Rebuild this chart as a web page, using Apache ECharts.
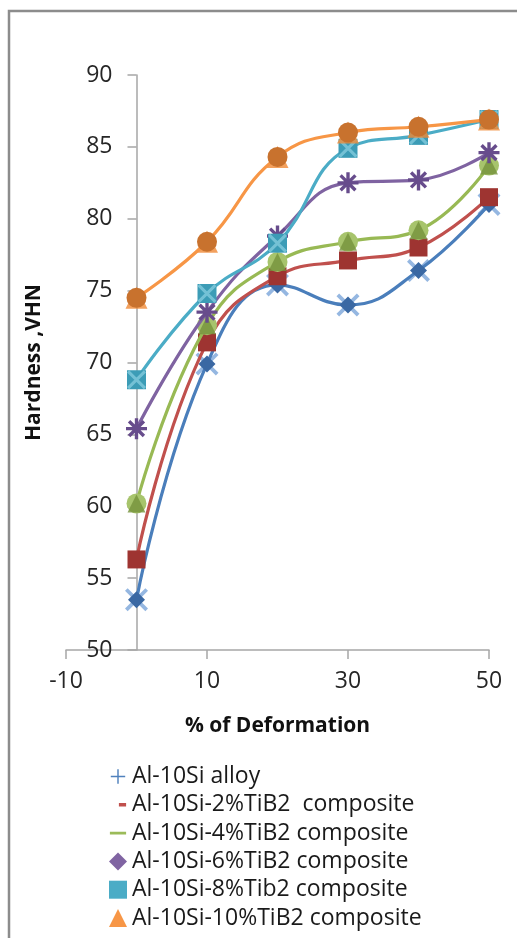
<!DOCTYPE html>
<html>
<head>
<meta charset="utf-8">
<script src="https://cdn.jsdelivr.net/npm/echarts@6/dist/echarts.min.js"></script>
<style>
html,body{margin:0;padding:0;background:#fff;}
#main{width:517px;height:938px;}
</style>
</head>
<body>
<div id="main"></div>
<script>
// % deformation (x) and hardness VHN (y)
var deformation = [0, 10, 20, 30, 40, 50];
var alloy   = [53.5, 69.9, 75.4, 74.0, 76.4, 81.0];
var tib2_2  = [56.3, 71.4, 76.0, 77.1, 78.0, 81.5];
var tib2_4  = [60.2, 72.6, 77.0, 78.4, 79.2, 83.7];
var tib2_6  = [65.4, 73.5, 78.8, 82.5, 82.7, 84.6];
var tib2_8  = [68.8, 74.8, 78.3, 84.9, 85.8, 86.9];
var tib2_10 = [74.5, 78.4, 84.3, 86.0, 86.4, 86.9];

var names = ['Al-10Si alloy', 'Al-10Si-2%TiB2  composite', 'Al-10Si-4%TiB2 composite',
             'Al-10Si-6%TiB2 composite', 'Al-10Si-8%Tib2 composite', 'Al-10Si-10%TiB2 composite'];

var FONT = 'Open Sans';

// bars rotated around centre -> path symbol
function bars(angles, len, w) {
    var p = '';
    angles.forEach(function (a) {
        var r = a * Math.PI / 180, c = Math.cos(r), s = Math.sin(r);
        var pts = [[-len / 2, -w / 2], [len / 2, -w / 2], [len / 2, w / 2], [-len / 2, w / 2]].map(function (q) {
            return (q[0] * c - q[1] * s).toFixed(2) + ',' + (q[0] * s + q[1] * c).toFixed(2);
        });
        p += 'M' + pts.join('L') + 'Z';
    });
    return 'path://' + p;
}
var xMark = bars([45, 135], 20, 2.6);
var starMark = bars([0, 45, 90, 135], 20, 3.2);
var box = 'M0,0h.01v.01h-.01zM19.99,19.99h.01v.01h-.01z';

var styles = [
    {line: '#4A7EBB', sym: 'diamond', size: 17, col: '#3A68A3', over: xMark, overSize: 23, overCol: '#7AA5DA', overTop: false},
    {line: '#C0504D', sym: 'rect', size: 18, col: '#9E3431', over: null},
    {line: '#98B954', sym: 'circle', size: 20, col: '#A7C46C', over: 'triangle', overSize: 18, overCol: '#76923C', overTop: true},
    {line: '#7F63A1', sym: starMark, size: 21, col: '#674C8C', over: null},
    {line: '#4BACC6', sym: 'rect', size: 19, col: '#3C9CB6', over: xMark, overSize: 19, overCol: '#82CADD', overTop: true},
    {line: '#F79646', sym: 'circle', size: 20, col: '#C8722E', over: 'triangle', overSize: 22, overCol: '#F08A36', overTop: false}
];
var legendIcons = [
    'path://' + box + 'M9.2,2h1.6v16h-1.6zM2,9.2h16v1.6h-16z',
    'path://' + box + 'M11,8h8v4h-8z',
    'path://' + box + 'M1,8.5h18v3h-18z',
    'diamond', 'rect', 'triangle'
];
var legendColors = ['#4F81BD', '#C0504D', '#9BBB59', '#8064A2', '#4BACC6', '#F79646'];

var values = [alloy, tib2_2, tib2_4, tib2_6, tib2_8, tib2_10];
var series = [];
values.forEach(function (v, i) {
    var st = styles[i];
    var pts = deformation.map(function (x, k) { return [x, v[k]]; });
    var base = 10 + i * 3;
    series.push({
        name: names[i],
        type: 'line',
        smooth: 0.45,
        data: pts,
        z: base + 1,
        symbol: st.sym,
        symbolSize: st.size,
        showAllSymbol: true,
        lineStyle: {color: st.line, width: 3.2},
        itemStyle: {color: st.col, borderWidth: 0}
    });
    if (st.over) {
        series.push({
            name: names[i] + ' marker',
            type: 'scatter',
            data: pts,
            z: st.overTop ? base + 2 : base,
            silent: true,
            symbol: st.over,
            symbolSize: st.overSize,
            itemStyle: {color: st.overCol}
        });
    }
});

var myChart = echarts.init(document.getElementById('main'));
var option = {
    animation: false,
    backgroundColor: '#fff',
    graphic: [{
        type: 'rect',
        shape: {x: 9, y: 11, width: 700, height: 1200},
        style: {fill: 'none', stroke: '#8C8C8C', lineWidth: 2.5},
        silent: true
    }],
    grid: {left: 66, right: 28, top: 75, bottom: 288, containLabel: false, outerBoundsMode: 'none'},
    legend: {
        orient: 'vertical',
        left: 104,
        top: 760,
        itemWidth: 18,
        itemHeight: 18,
        itemGap: 5.3,
        selectedMode: false,
        textStyle: {fontFamily: FONT, fontSize: 23, color: '#1a1a1a', lineHeight: 22},
        data: names.map(function (n, i) {
            return {name: n, icon: legendIcons[i], itemStyle: {color: legendColors[i], borderWidth: 0}};
        })
    },
    xAxis: {
        type: 'value',
        min: -10, max: 50, interval: 20,
        name: '% of Deformation',
        nameLocation: 'middle',
        nameGap: 66,
        nameTextStyle: {fontFamily: FONT, fontSize: 21, fontWeight: 'bold', color: '#111'},
        axisLine: {onZero: false, lineStyle: {color: '#A6A6A6', width: 1.5}},
        axisTick: {length: 9, lineStyle: {color: '#A6A6A6', width: 1.5}},
        axisLabel: {fontFamily: FONT, fontSize: 23, color: '#262626', margin: 20},
        splitLine: {show: false}
    },
    yAxis: {
        type: 'value',
        min: 50, max: 90, interval: 5,
        offset: -70.5,   // sits at x = 0
        name: 'Hardness ,VHN',
        nameLocation: 'middle',
        nameGap: 92,
        nameTextStyle: {fontFamily: FONT, fontSize: 21, fontWeight: 'bold', color: '#111'},
        axisLine: {show: true, onZero: false, lineStyle: {color: '#A6A6A6', width: 1.5}},
        axisTick: {show: true, length: 9, lineStyle: {color: '#A6A6A6', width: 1.5}},
        axisLabel: {fontFamily: FONT, fontSize: 23, color: '#262626', margin: 24},
        splitLine: {show: false}
    },
    series: series
};
myChart.setOption(option);
</script>
</body>
</html>
